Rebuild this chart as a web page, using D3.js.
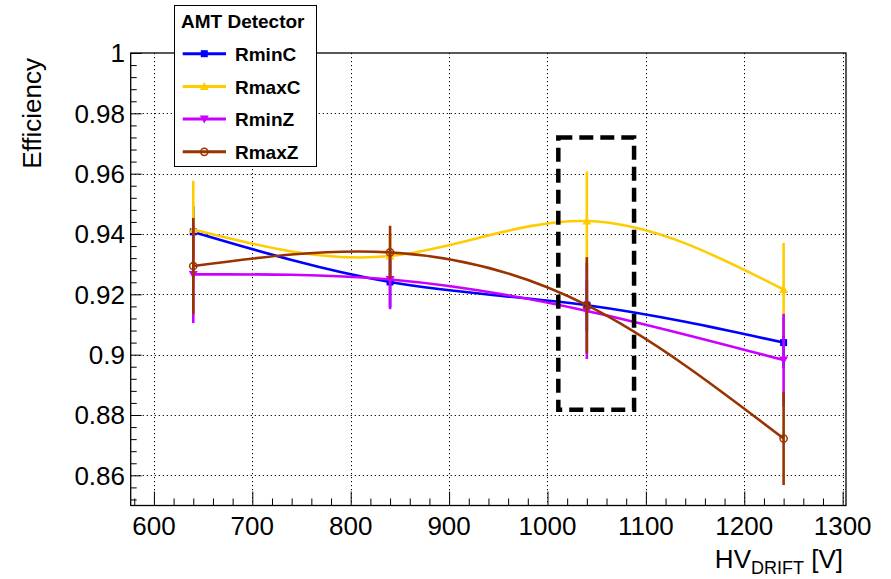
<!DOCTYPE html>
<html>
<head>
<meta charset="utf-8">
<script src="https://cdn.jsdelivr.net/npm/d3@7"></script>
<style>
  html, body { margin: 0; padding: 0; background: #fff; }
  svg { display: block; font-family: "Liberation Sans", Arial, sans-serif; }
</style>
</head>
<body>
<svg id="chart" width="891" height="579"></svg>
<script>
// Drift high voltage settings (V)
const hv = [640, 840, 1040, 1240];

// Efficiency per chamber region, with uncertainties
const rminC    = [0.9407, 0.9241, 0.9164, 0.9040];
const rminCErr = [0.0080, 0.0080, 0.0080, 0.0080];
const rmaxC    = [0.9415, 0.9327, 0.9443, 0.9216];
const rmaxCErr = [0.0157, 0.0070, 0.0160, 0.0150];
const rminZ    = [0.9266, 0.9249, 0.9145, 0.8982];
const rminZErr = [0.0157, 0.0094, 0.0155, 0.0149];
const rmaxZ    = [0.9294, 0.9339, 0.9164, 0.8722];
const rmaxZErr = [0.0155, 0.0084, 0.0155, 0.0150];

const seriesNames  = ["RminC", "RmaxC", "RminZ", "RmaxZ"];
const seriesColors = ["#0000ff", "#ffcc00", "#cc00ff", "#993300"];
const seriesMarkers = ["square", "triangleUp", "triangleDown", "openCircle"];

// Axis ticks
const xTicks = [600, 700, 800, 900, 1000, 1100, 1200, 1300];
const yTicks = [0.86, 0.88, 0.9, 0.92, 0.94, 0.96, 0.98, 1];
const yTickLabels = ["0.86", "0.88", "0.9", "0.92", "0.94", "0.96", "0.98", "1"];

// Highlighted operating region (HV range, efficiency range)
const highlightHV  = [1011, 1088];
const highlightEff = [0.8817, 0.972];

const legendTitle = "AMT Detector";
const yTitle = "Efficiency";

const svg = d3.select("#chart");
const W = 891, H = 579;
const frame = { left: 130.7, right: 846, top: 53, bottom: 505.5 };

const x = d3.scaleLinear().domain([576.4, 1303.4]).range([frame.left, frame.right]);
const y = d3.scaleLinear().domain([0.85, 1.0]).range([frame.bottom, frame.top]);

svg.append("rect").attr("width", W).attr("height", H).attr("fill", "#fff");

// Dotted grid at major ticks
const grid = svg.append("g").attr("stroke", "#000").attr("stroke-width", 1)
  .attr("stroke-dasharray", "1.2,2.8").attr("fill", "none");
xTicks.forEach(v => {
  const px = Math.round(x(v)) + 0.5;
  grid.append("line").attr("x1", px).attr("x2", px).attr("y1", frame.top).attr("y2", frame.bottom);
});
yTicks.filter(v => v < 1).forEach(v => {
  const py = Math.round(y(v)) + 0.5;
  grid.append("line").attr("x1", frame.left).attr("x2", frame.right).attr("y1", py).attr("y2", py);
});

// Axes (ticks drawn inside the frame)
const xAxis = d3.axisTop(x).tickValues(d3.range(580, 1301, 20))
  .tickSize(7).tickFormat("");
svg.append("g").attr("transform", `translate(0,${frame.bottom})`).call(xAxis)
  .call(g => g.select(".domain").remove())
  .call(g => g.selectAll(".tick line").attr("stroke", "#000")
    .attr("y2", d => (d % 100 === 0) ? -14 : -7));

const yMinor = d3.range(0, 38).map(i => +(0.852 + i * 0.004).toFixed(3)).filter(v => v <= 1.0001);
const yAxis = d3.axisRight(y).tickValues(yMinor).tickSize(6).tickFormat("");
svg.append("g").attr("transform", `translate(${frame.left},0)`).call(yAxis)
  .call(g => g.select(".domain").remove())
  .call(g => g.selectAll(".tick line").attr("stroke", "#000")
    .attr("x2", d => (Math.abs(Math.round(d / 0.02) * 0.02 - d) < 1e-6) ? 11 : 6));

// Frame
svg.append("rect")
  .attr("x", frame.left).attr("y", frame.top)
  .attr("width", frame.right - frame.left).attr("height", frame.bottom - frame.top)
  .attr("fill", "none").attr("stroke", "#000").attr("stroke-width", 1.3);

// Tick labels
svg.append("g").selectAll("text").data(xTicks).join("text")
  .attr("x", d => x(d)).attr("y", 535)
  .attr("text-anchor", "middle").attr("font-size", 26).attr("fill", "#000")
  .text(d => d);
svg.append("g").selectAll("text").data(yTicks).join("text")
  .attr("x", 125).attr("y", d => y(d) + 9.3)
  .attr("text-anchor", "end").attr("font-size", 26).attr("fill", "#000")
  .text((d, i) => yTickLabels[i]);

// Axis titles
const xt = svg.append("text").attr("x", 843).attr("y", 568)
  .attr("text-anchor", "end").attr("font-size", 26).attr("fill", "#000");
xt.append("tspan").text("HV");
xt.append("tspan").attr("font-size", 18).attr("dy", 6).text("DRIFT");
xt.append("tspan").attr("dy", -6).text(" [V]");

svg.append("text")
  .attr("transform", "translate(41,58) rotate(-90)")
  .attr("text-anchor", "end").attr("font-size", 26).attr("fill", "#000")
  .text(yTitle);

// Markers
function drawMarker(g, type, color, cx, cy) {
  if (type === "square") {
    g.append("rect").attr("x", cx - 3.5).attr("y", cy - 3.5).attr("width", 7).attr("height", 7)
      .attr("fill", color);
  } else if (type === "triangleUp") {
    g.append("path").attr("d", `M${cx},${cy - 4.5}L${cx + 4.5},${cy + 3.5}L${cx - 4.5},${cy + 3.5}Z`)
      .attr("fill", color);
  } else if (type === "triangleDown") {
    g.append("path").attr("d", `M${cx},${cy + 4.5}L${cx + 4.5},${cy - 3.5}L${cx - 4.5},${cy - 3.5}Z`)
      .attr("fill", color);
  } else {
    g.append("circle").attr("cx", cx).attr("cy", cy).attr("r", 3.6)
      .attr("fill", "none").attr("stroke", color).attr("stroke-width", 1.5);
  }
}

const values = [rminC, rmaxC, rminZ, rmaxZ];
const errors = [rminCErr, rmaxCErr, rminZErr, rmaxZErr];

const plot = svg.append("g");
const line = d3.line().x(d => x(d[0])).y(d => y(d[1])).curve(d3.curveNatural);

values.forEach((vals, s) => {
  const color = seriesColors[s];
  const g = plot.append("g");
  const pts = hv.map((h, i) => [h, vals[i]]);
  // error bars
  pts.forEach((p, i) => {
    g.append("line")
      .attr("x1", x(p[0])).attr("x2", x(p[0]))
      .attr("y1", y(p[1] - errors[s][i])).attr("y2", y(p[1] + errors[s][i]))
      .attr("stroke", color).attr("stroke-width", 2.6).attr("stroke-linecap", "square");
  });
  // smooth curve through the points
  g.append("path").datum(pts).attr("d", line)
    .attr("fill", "none").attr("stroke", color).attr("stroke-width", 2.6);
  pts.forEach(p => drawMarker(g, seriesMarkers[s], color, x(p[0]), y(p[1])));
});

// Highlighted region
svg.append("rect")
  .attr("x", x(highlightHV[0])).attr("y", y(highlightEff[1]))
  .attr("width", x(highlightHV[1]) - x(highlightHV[0]))
  .attr("height", y(highlightEff[0]) - y(highlightEff[1]))
  .attr("fill", "none").attr("stroke", "#000").attr("stroke-width", 4.5)
  .attr("stroke-dasharray", "14,7");

// Legend
const leg = svg.append("g");
leg.append("rect").attr("x", 174.5).attr("y", 5.5).attr("width", 142).attr("height", 161)
  .attr("fill", "#fff").attr("stroke", "#000").attr("stroke-width", 1);
leg.append("text").attr("x", 181).attr("y", 28.3).attr("font-size", 19)
  .attr("font-weight", "bold").attr("fill", "#000").text(legendTitle);
seriesNames.forEach((name, i) => {
  const cy = 53.7 + i * 32.7;
  leg.append("line").attr("x1", 182.7).attr("x2", 226).attr("y1", cy).attr("y2", cy)
    .attr("stroke", seriesColors[i]).attr("stroke-width", 3);
  drawMarker(leg, seriesMarkers[i], seriesColors[i], 204.3, cy);
  leg.append("text").attr("x", 235).attr("y", cy + 7.2).attr("font-size", 19)
    .attr("font-weight", "bold").attr("fill", "#000").text(name);
});
</script>
</body>
</html>
